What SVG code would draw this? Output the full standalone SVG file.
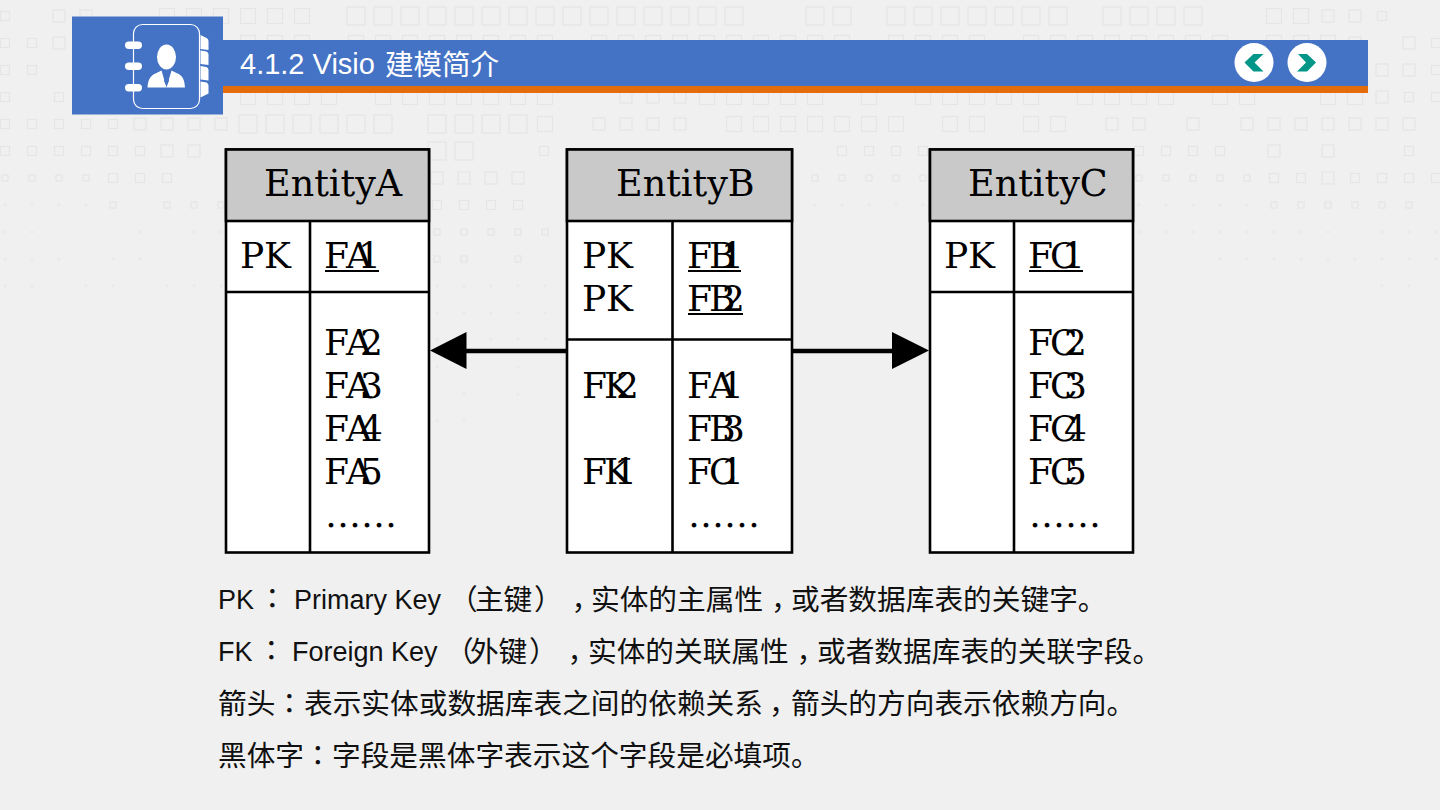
<svg xmlns="http://www.w3.org/2000/svg" width="1440" height="810" viewBox="0 0 1440 810">
<style>
.sq{fill:none;stroke:#e5e5e5;stroke-width:1.2}
.q{fill:none;stroke:none}
.s18{marker-start:url(#s18);marker-mid:url(#s18);marker-end:url(#s18)}
.s15{marker-start:url(#s15);marker-mid:url(#s15);marker-end:url(#s15)}
.s12{marker-start:url(#s12);marker-mid:url(#s12);marker-end:url(#s12)}
.s9{marker-start:url(#s9);marker-mid:url(#s9);marker-end:url(#s9)}
.s6{marker-start:url(#s6);marker-mid:url(#s6);marker-end:url(#s6)}
.s3{marker-start:url(#s3);marker-mid:url(#s3);marker-end:url(#s3)}
.tb{fill:#fff;stroke:#000;stroke-width:2.6}
.hd{fill:#c9c9c9;stroke:#000;stroke-width:2.6}
.ln{stroke:#000;stroke-width:2.6;fill:none}
.ul{stroke:#000;stroke-width:2;fill:none}
.e{font-family:"DejaVu Serif",serif;font-size:36px;fill:#000}
.h{font-family:"DejaVu Serif",serif;font-size:36.500px;fill:#000}
.n{font-family:"Liberation Sans","Noto Sans CJK SC",sans-serif;font-size:27px;fill:#111}
.c{font-family:"Noto Sans CJK SC",sans-serif;font-size:28.700px;fill:#111}
.p{font-family:"Noto Sans CJK SC",sans-serif;font-size:28.700px;fill:#111;font-feature-settings:"halt"}
.j{font-family:"Noto Sans CJK JP",sans-serif;font-size:28.700px;fill:#111}
.t{font-family:"Liberation Sans",sans-serif;font-size:29px;fill:#fff}
.tc{font-family:"Noto Sans CJK SC",sans-serif;font-size:28.500px;fill:#fff}
.w{fill:#fff}
.con{stroke:#000;stroke-width:4.500;fill:none}
</style>
<defs>
<marker id="s18" markerUnits="userSpaceOnUse" markerWidth="22" markerHeight="22" refX="11" refY="11"><rect class="sq" x="2" y="2" width="18" height="18"/></marker>
<marker id="s15" markerUnits="userSpaceOnUse" markerWidth="18" markerHeight="18" refX="9" refY="9"><rect class="sq" x="1.500" y="1.500" width="15" height="15"/></marker>
<marker id="s12" markerUnits="userSpaceOnUse" markerWidth="14" markerHeight="14" refX="7" refY="7"><rect class="sq" x="1" y="1" width="12" height="12"/></marker>
<marker id="s9" markerUnits="userSpaceOnUse" markerWidth="12" markerHeight="12" refX="6" refY="6"><rect class="sq" x="1.500" y="1.500" width="9" height="9"/></marker>
<marker id="s6" markerUnits="userSpaceOnUse" markerWidth="10" markerHeight="10" refX="5" refY="5"><rect class="sq" x="2" y="2" width="6" height="6"/></marker>
<marker id="s3" markerUnits="userSpaceOnUse" markerWidth="6" markerHeight="6" refX="3" refY="3"><rect x="1.500" y="1.500" width="3" height="3" fill="#e9e9e9"/></marker>
</defs>
<rect id="bg" width="1440" height="810" fill="#f0f0f0"/>
<g id="pattern">
<polyline class="q s18" points="356,16 383,16 410,16 437,16 464,16 491,16 518,16 545,16 572,16 599,16 626,16 653,16 680,16 707,16 734,16 815,16 842,16 896,16 923,16 950,16 977,16 1004,16 1031,16 1058,16 1112,16 1139,16 1166,16 1193,16"/>
<polyline class="q s15" points="167,16 194,16 221,16 248,16 275,16 302,16 1274,16 1301,16"/>
<polyline class="q s12" points="86,16 1328,16 1355,16 59,16"/>
<polyline class="q s9" points="5,16 1382,16 5,43 32,43 5,70 32,70 5,97 59,97"/>
<polyline class="q s15" points="248,43 275,43 302,43 356,43 383,43 410,43 437,43 464,43 491,43 518,43 545,43 599,43 626,43 653,43 680,43 707,43 734,43 761,43 788,43 815,43 842,43 896,43 923,43 950,43 977,43 1031,43 1058,43 1085,43 1112,43 1139,43 1166,43 1193,43 1220,43 1274,43 1301,43 1328,43"/>
<polyline class="q s12" points="59,43 1355,43 1409,43 1382,70 1409,70 1382,97"/>
<polyline class="q s9" points="1436,43 1436,70 1409,97 1436,97"/>
<polyline class="q s15" points="248,97 275,97 302,97 329,97 383,97 410,97 437,97 464,97 491,97 518,97 545,97 707,97 734,97 761,97 788,97 815,97 869,97 923,97 950,97 977,97 1004,97 1031,97 1085,97 1112,97 1139,97 1166,97 1220,97 1247,97 1328,97 1355,97"/>
<polyline class="q s12" points="626,97 653,97 680,97"/>
<polyline class="q s18" points="248,124 275,124 302,124 329,124 356,124 383,124 437,124 464,124 491,124 518,124"/>
<polyline class="q s15" points="545,124 734,124 761,124 788,124 815,124 842,124 869,124 896,124 950,124 977,124 1031,124 1058,124"/>
<polyline class="q s12" points="599,124 626,124 653,124 680,124 1112,124 1139,124 1193,124 1247,124 1274,124 1301,124 1328,124 1355,124 1382,124 1409,124 221,124 194,124 167,124 140,124"/>
<polyline class="q s9" points="5,124 32,124 59,124 86,124 113,124 5,151 32,151 59,151 86,151 113,151 140,151 544,151 842,151 869,151 896,151 923,151 1139,151 1166,151 1193,151 1220,151 1409,151"/>
<polyline class="q s12" points="167,151 194,151 1274,151 1328,151"/>
<polyline class="q s18" points="437,151 464,151"/>
<polyline class="q s12" points="437,178 464,178 491,178 518,178 1328,178"/>
<polyline class="q s9" points="167,178 140,178 113,178 1274,178 1301,178 1355,178 1382,178 1409,178 1436,178 437,205 464,205 491,205 518,205"/>
<polyline class="q s6" points="5,178 32,178 59,178 86,178 815,178 842,178 869,178 896,178 923,178 1139,178 1166,178 1193,178 1220,178 1247,178 113,205 167,205 194,205 221,205 437,232 464,232 491,232 518,232 545,232 437,259 464,259 518,259 1274,205 1301,205 1328,205 1355,205 1382,205 1409,205"/>
<polyline class="q s3" points="5,205 32,205 59,205 86,205 815,205 842,205 869,205 896,205 923,205 1139,205 1166,205 1193,205 1220,205 1247,205 5,232 32,232 140,232 194,232 221,232 1139,232 1166,232 1193,232 1220,232 1247,232 1274,232 1301,232 1328,232 1382,232 1409,232 1436,232 5,259 32,259 59,259 113,259 140,259 1220,259 1247,259 1274,259 1301,259 1328,259 1355,259 1382,259 1409,259 1436,259 5,286 32,286 86,286 113,286 167,286 194,286 221,286 1382,286 1409,286 437,286 464,286 491,286 518,286 545,286 437,313 464,313 491,313 518,313 545,313 437,339 491,339 518,339 545,339 437,367 518,367 464,394 518,394 437,421 464,421"/>
</g>
<g id="header">
<rect x="223" y="40" width="1145" height="47" fill="#4472c4"/>
<rect x="223" y="86" width="1145" height="7" fill="#e46c0a"/>
<rect x="72" y="16.500" width="151" height="98" fill="#4472c4"/>
<g id="icon">
<rect x="133.500" y="24.500" width="66" height="84" rx="9" fill="none" stroke="#fff" stroke-width="1.200"/>
<rect class="w" x="125" y="41.500" width="17" height="7.500" rx="3.700"/>
<rect class="w" x="125" y="62.500" width="17" height="7.500" rx="3.700"/>
<rect class="w" x="125" y="84" width="17" height="7.500" rx="3.700"/>
<path class="w" d="M200.500 35l6 3q2 1 2 3v9l-8-1zM200.500 50.500l6 1q2 1 2 3v10.500l-8-1zM200.500 66l6 1q2 1 2 3v10.500l-8-1zM200.500 81.500l6 1q2 1 2 3v8l-8 4z"/>
<ellipse class="w" cx="166.500" cy="57" rx="9.500" ry="12.500"/>
<path class="w" d="M147.500 87.500c.5-8 3-12 8-14l6-3 5 17 5-17 6 3c5 2 7 6 7.500 14z"/>
<path d="M164.500 70h4l-1 3 1.500 8-2.500 5-2.500-5 1.500-8z" fill="#4472c4"/>
</g>
<text class="t" x="240" y="74">4.1.2 Visio</text>
<text class="tc" x="385" y="75">建模简介</text>
<g id="prev"><circle class="w" cx="1254" cy="62.500" r="19.500"/><path d="M1263.500 54l-10 0-9 8.500 9 9 10 0-9-9z" fill="#009688"/></g>
<g id="next"><circle class="w" cx="1307" cy="62.500" r="19.500"/><path d="M1298 54l9 0 9 8.500-9 9-10 0 9-9z" fill="#009688"/></g>
</g>
<g id="connectors">
<line class="con" x1="466" y1="351" x2="567" y2="351"/>
<path d="M430 350.500l36.500-18.500v37z" fill="#000"/>
<line class="con" x1="792" y1="351" x2="893" y2="351"/>
<path d="M929 350.500l-37-18.500v37z" fill="#000"/>
</g>
<g id="entity-a">
<rect class="tb" x="226" y="149.500" width="203" height="403"/>
<rect class="hd" x="226" y="149.500" width="203" height="71.500"/>
<path class="ln" d="M226 292H429M310 221V552.500"/>
<text class="h" x="264" y="196">EntityA</text>
<text class="e" x="240 264" y="268">PK</text>
<text class="e" x="324 346 358" y="268">FA1</text><line class="ul" x1="325" y1="271" x2="379" y2="271"/>
<text class="e" x="324 346 360" y="355">FA2</text>
<text class="e" x="324 346 360" y="398">FA3</text>
<text class="e" x="324 346 360" y="441">FA4</text>
<text class="e" x="324 346 360" y="484">FA5</text>
<text class="e" x="325" y="527">……</text>
</g>
<g id="entity-b">
<rect class="tb" x="567" y="149.500" width="225" height="403"/>
<rect class="hd" x="567" y="149.500" width="225" height="71.500"/>
<path class="ln" d="M567 339.500H792M672.500 221V552.500"/>
<text class="h" x="616" y="196">EntityB</text>
<text class="e" x="582 606" y="268">PK</text>
<text class="e" x="582 606" y="311">PK</text>
<text class="e" x="687 709 721" y="268">FB1</text><line class="ul" x1="688" y1="271" x2="741" y2="271"/>
<text class="e" x="687 709 722" y="311">FB2</text><line class="ul" x1="688" y1="314" x2="743" y2="314"/>
<text class="e" x="582 604 616" y="398">FK2</text>
<text class="e" x="582 604 614" y="484">FK1</text>
<text class="e" x="687 709 721" y="398">FA1</text>
<text class="e" x="687 709 722" y="441">FB3</text>
<text class="e" x="687 709 721" y="484">FC1</text>
<text class="e" x="688" y="527">……</text>
</g>
<g id="entity-c">
<rect class="tb" x="930" y="149.500" width="203" height="403"/>
<rect class="hd" x="930" y="149.500" width="203" height="71.500"/>
<path class="ln" d="M930 292H1133M1014 221V552.500"/>
<text class="h" x="968" y="196">EntityC</text>
<text class="e" x="944 968" y="268">PK</text>
<text class="e" x="1028 1050 1062" y="268">FC1</text><line class="ul" x1="1029" y1="271" x2="1083" y2="271"/>
<text class="e" x="1028 1050 1064" y="355">FC2</text>
<text class="e" x="1028 1050 1064" y="398">FC3</text>
<text class="e" x="1028 1050 1064" y="441">FC4</text>
<text class="e" x="1028 1050 1064" y="484">FC5</text>
<text class="e" x="1029" y="527">……</text>
</g>
<g id="legend">
<text y="609"><tspan class="n" x="218">PK</tspan><tspan class="j" x="258">：</tspan><tspan class="n" x="294">Primary Key</tspan></text>
<text class="c" y="610" x="449 475 503.500 534">（主键）</text>
<text class="p" y="610" x="571.500">，</text>
<text class="c" y="610" x="591">实体的主属性</text>
<text class="p" y="610" x="771">，</text>
<text class="c" y="610" x="791">或者数据库表的关键字。</text>
<text y="661"><tspan class="n" x="218">FK</tspan><tspan class="j" x="257">：</tspan><tspan class="n" x="292">Foreign Key</tspan></text>
<text class="c" y="662" x="445 470 498.500 529">（外键）</text>
<text class="p" y="662" x="567.500">，</text>
<text class="c" y="662" x="588">实体的关联属性</text>
<text class="p" y="662" x="796.500">，</text>
<text class="c" y="662" x="817">或者数据库表的关联字段。</text>
<text y="714"><tspan class="c" x="218">箭头</tspan><tspan class="j" x="275">：</tspan><tspan class="c" x="304">表示实体或数据库表之间的依赖关系</tspan></text>
<text class="p" y="714" x="769">，</text>
<text class="c" y="714" x="791">箭头的方向表示依赖方向。</text>
<text y="766"><tspan class="c" x="218">黑体字</tspan><tspan class="j" x="303.500">：</tspan><tspan class="c" x="332">字段是黑体字表示这个字段是必填项。</tspan></text>
</g>
</svg>
